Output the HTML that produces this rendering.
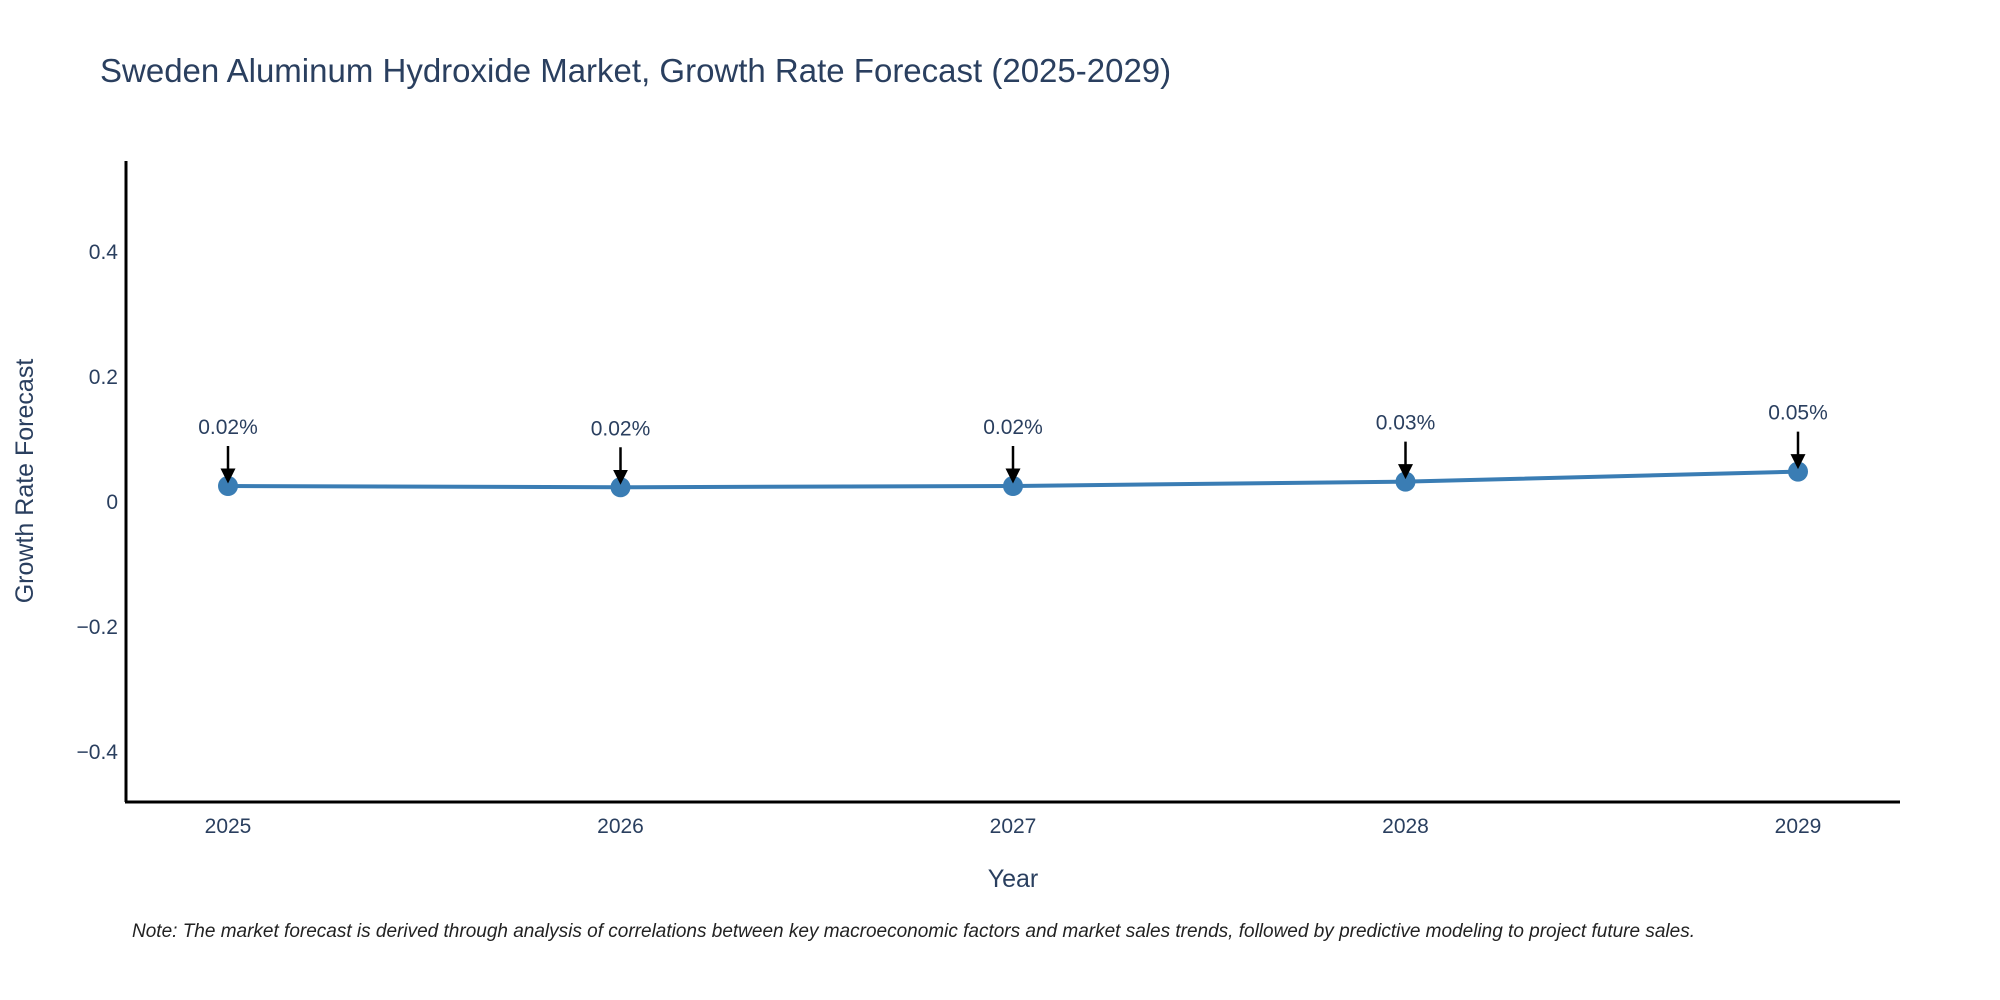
<!DOCTYPE html>
<html><head><meta charset="utf-8"><style>
body{margin:0;background:#fff;}
svg{display:block;font-family:"Liberation Sans",sans-serif;}
</style></head><body>
<svg id="chart" width="2000" height="1000" xmlns="http://www.w3.org/2000/svg">
<text x="100" y="82" font-size="33" fill="#2a3f5f">Sweden Aluminum Hydroxide Market, Growth Rate Forecast (2025-2029)</text>
<g id="yticks"></g>
<g id="xticks"></g>
<line x1="126" y1="161" x2="126" y2="802" stroke="#000" stroke-width="3"/>
<line x1="125" y1="802" x2="1900" y2="802" stroke="#000" stroke-width="3"/>
<text transform="translate(33,481) rotate(-90)" text-anchor="middle" font-size="25" fill="#2a3f5f">Growth Rate Forecast</text>
<text x="1013" y="887" text-anchor="middle" font-size="25" fill="#2a3f5f">Year</text>
<g id="series"></g>
<text x="132" y="937" font-size="19" font-style="italic" fill="#222">Note: The market forecast is derived through analysis of correlations between key macroeconomic factors and market sales trends, followed by predictive modeling to project future sales.</text>
</svg>
<script>
const years = ["2025","2026","2027","2028","2029"];
const values = [0.024, 0.022, 0.024, 0.031, 0.047];
const labels = ["0.02%","0.02%","0.02%","0.03%","0.05%"];
const yTicks = [-0.4,-0.2,0,0.2,0.4];
const yTickLabels = ["\u22120.4","\u22120.2","0","0.2","0.4"];
const NS="http://www.w3.org/2000/svg";
function xPos(i){return 228+i*392.5;}
function yPos(v){return 501-v*625;}
function mk(tag,attrs,parent){const e=document.createElementNS(NS,tag);for(const k in attrs)e.setAttribute(k,attrs[k]);parent.appendChild(e);return e;}
const yg=document.getElementById('yticks');
yTicks.forEach((t,i)=>{
  const e=mk('text',{x:118,y:yPos(t)+8,'text-anchor':'end','font-size':21,fill:'#2a3f5f'},yg);
  
  
  e.textContent=yTickLabels[i];
});
const xg=document.getElementById('xticks');
years.forEach((y,i)=>{
  const e=mk('text',{x:xPos(i),y:833,'text-anchor':'middle','font-size':21,fill:'#2a3f5f'},xg);
  
  
  e.textContent=y;
});
const sg=document.getElementById('series');
const defs=mk('defs',{},sg);
const m=mk('marker',{id:'ah',markerWidth:6,markerHeight:6,refX:3,refY:3,orient:'auto',markerUnits:'strokeWidth'},defs);
mk('path',{d:'M0,0 L6,3 L0,6 Z',fill:'#000'},m);
const pl=mk('polyline',{points:values.map((v,i)=>xPos(i)+','+yPos(v)).join(' '),fill:'none',stroke:'#3a7db4','stroke-width':4},sg);


values.forEach((v,i)=>{
  const c=mk('circle',{cx:xPos(i),cy:yPos(v),r:10,fill:'#3a7db4'},sg);
  
  
  const a=mk('line',{x1:xPos(i),y1:yPos(v)-40,x2:xPos(i),y2:yPos(v)-10,stroke:'#000','stroke-width':2.5,'marker-end':'url(#ah)'},sg);
  
  
  const t=mk('text',{x:xPos(i),y:yPos(v)-52,'text-anchor':'middle','font-size':21,fill:'#2a3f5f'},sg);
  
  
  t.textContent=labels[i];
});
</script>
</body></html>
